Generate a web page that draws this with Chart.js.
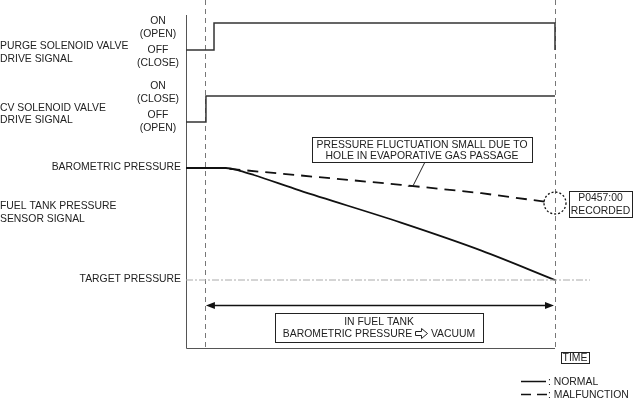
<!DOCTYPE html>
<html lang="en">
<head>
<meta charset="UTF-8" />
<title>Fuel tank pressure monitoring</title>
<script src="https://cdn.jsdelivr.net/npm/chart.js"></script>
<style>
  body { margin: 0; background: #fff; }
</style>
</head>
<body>
<canvas id="timing" width="636" height="402"></canvas>
<script>
// time axis (test starts at 0, ends at 10)
const timeStart = -0.54;
const timeEnd = 11;
const testStart = 0;
const testEnd = 10;

// purge solenoid valve drive signal (0 = OFF, 1 = ON)
const purgeTime = [-0.54, 0.26, 0.26, 10, 10];
const purgeLevel = [0, 0, 1, 1, 0];

// CV solenoid valve drive signal (0 = OFF, 1 = ON)
const cvTime = [-0.54, 0.03, 0.03, 10];
const cvLevel = [0, 0, 1, 1];

// fuel tank pressure, relative to barometric
const barometricPressure = 0;
const targetPressure = -4;
const normalTime = [-0.54, 0.6, 1.0, 1.4, 2.7, 5.6, 7.9, 10];
const normalPressure = [0, 0, -0.1, -0.25, -0.8, -1.95, -2.95, -4];
const malfunctionTime = [0.7, 5.6, 7.9, 9.7];
const malfunctionPressure = [-0.03, -0.6, -0.9, -1.2];
const recordedTime = 10;
const recordedPressure = -1.25;

const FONT = '10.4px "Liberation Sans", Arial, sans-serif';
const INK = "#222";
const TOP = 15, BOTTOM = 348;

// fit a hidden scale so value hi lands on pixel row pHi and lo on pLo
function fit(hi, pHi, lo, pLo) {
  const k = (hi - lo) / (pLo - pHi);
  return { min: hi - (BOTTOM - pHi) * k, max: hi + (pHi - TOP) * k };
}

const pts = (xs, ys) => xs.map((x, i) => ({ x: x, y: ys[i] }));

const leftLabels = [
  { text: "PURGE SOLENOID VALVE", x: 0, y: 46, align: "left" },
  { text: "DRIVE SIGNAL", x: 0, y: 59, align: "left" },
  { text: "ON", x: 158, y: 21, align: "center" },
  { text: "(OPEN)", x: 158, y: 34, align: "center" },
  { text: "OFF", x: 158, y: 50, align: "center" },
  { text: "(CLOSE)", x: 158, y: 63, align: "center" },
  { text: "CV SOLENOID VALVE", x: 0, y: 108, align: "left" },
  { text: "DRIVE SIGNAL", x: 0, y: 120, align: "left" },
  { text: "ON", x: 158, y: 86, align: "center" },
  { text: "(CLOSE)", x: 158, y: 99, align: "center" },
  { text: "OFF", x: 158, y: 115, align: "center" },
  { text: "(OPEN)", x: 158, y: 128, align: "center" },
  { text: "BAROMETRIC PRESSURE", x: 181, y: 167, align: "right" },
  { text: "FUEL TANK PRESSURE", x: 0, y: 206, align: "left" },
  { text: "SENSOR SIGNAL", x: 0, y: 219, align: "left" },
  { text: "TARGET PRESSURE", x: 181, y: 279, align: "right" }
];

function frame(ctx, x, y, w, h) {
  ctx.fillStyle = "#fff";
  ctx.fillRect(x, y, w, h);
  ctx.strokeStyle = INK;
  ctx.lineWidth = 1;
  ctx.strokeRect(x + 0.5, y + 0.5, w, h);
}

function box(ctx, x, y, w, h, lines, lineGap) {
  ctx.save();
  frame(ctx, x, y, w, h);
  ctx.fillStyle = INK;
  ctx.font = FONT;
  ctx.textAlign = "center";
  ctx.textBaseline = "middle";
  const y0 = y + h / 2 - (lines.length - 1) * lineGap / 2 + 1;
  lines.forEach((t, i) => ctx.fillText(t, x + w / 2, y0 + i * lineGap));
  ctx.restore();
}

// hollow right arrow used between the two pressure words
function hollowArrow(ctx, x, y) {
  ctx.beginPath();
  ctx.moveTo(x, y - 2);
  ctx.lineTo(x + 6, y - 2);
  ctx.lineTo(x + 6, y - 5);
  ctx.lineTo(x + 12, y);
  ctx.lineTo(x + 6, y + 5);
  ctx.lineTo(x + 6, y + 2);
  ctx.lineTo(x, y + 2);
  ctx.closePath();
  ctx.stroke();
}

const diagram = {
  id: "diagram",
  beforeDatasetsDraw(chart) {
    const ctx = chart.ctx;
    const xs = chart.scales.x;
    const area = chart.chartArea;
    ctx.save();
    // test window markers
    ctx.strokeStyle = "#777";
    ctx.lineWidth = 1;
    ctx.setLineDash([5, 4]);
    [testStart, testEnd].forEach(t => {
      const px = Math.round(xs.getPixelForValue(t)) + 0.5;
      ctx.beginPath();
      ctx.moveTo(px, 0);
      ctx.lineTo(px, area.bottom);
      ctx.stroke();
    });
    ctx.setLineDash([]);
    // axes
    ctx.strokeStyle = "#555";
    ctx.beginPath();
    ctx.moveTo(area.left + 0.5, area.top);
    ctx.lineTo(area.left + 0.5, area.bottom + 0.5);
    ctx.lineTo(xs.getPixelForValue(testEnd), area.bottom + 0.5);
    ctx.stroke();
    ctx.restore();
  },
  afterDatasetsDraw(chart) {
    const ctx = chart.ctx;
    const xs = chart.scales.x;
    const yp = chart.scales.yPress;
    ctx.save();
    ctx.font = FONT;
    ctx.fillStyle = INK;
    ctx.textBaseline = "middle";
    leftLabels.forEach(l => {
      ctx.textAlign = l.align;
      ctx.fillText(l.text, l.x, l.y);
    });

    // recorded marker
    const cx = xs.getPixelForValue(recordedTime);
    const cy = yp.getPixelForValue(recordedPressure);
    ctx.strokeStyle = "#111";
    ctx.lineWidth = 1.3;
    ctx.setLineDash([2, 2]);
    ctx.beginPath();
    ctx.arc(cx, cy, 11, 0, Math.PI * 2);
    ctx.stroke();
    ctx.setLineDash([]);
    box(ctx, 569, 191, 63, 26, ["P0457:00", "RECORDED"], 13);

    // callout on malfunction line
    const lx = xs.getPixelForValue(5.94);
    const ly = yp.getPixelForValue(-0.65);
    ctx.strokeStyle = INK;
    ctx.lineWidth = 1;
    ctx.beginPath();
    ctx.moveTo(425, 162);
    ctx.lineTo(lx, ly);
    ctx.lineTo(lx - 5, ly);
    ctx.stroke();
    box(ctx, 312, 137, 220, 25, ["PRESSURE FLUCTUATION SMALL DUE TO", "HOLE IN EVAPORATIVE GAS PASSAGE"], 11.5);

    // test duration arrow
    const ax0 = xs.getPixelForValue(testStart) + 1;
    const ax1 = xs.getPixelForValue(testEnd) - 1;
    const ay = 305.5;
    ctx.lineWidth = 1.5;
    ctx.strokeStyle = "#111";
    ctx.fillStyle = "#111";
    ctx.beginPath();
    ctx.moveTo(ax0 + 6, ay);
    ctx.lineTo(ax1 - 6, ay);
    ctx.stroke();
    ctx.beginPath();
    ctx.moveTo(ax0, ay); ctx.lineTo(ax0 + 9, ay - 3.5); ctx.lineTo(ax0 + 9, ay + 3.5); ctx.closePath();
    ctx.moveTo(ax1, ay); ctx.lineTo(ax1 - 9, ay - 3.5); ctx.lineTo(ax1 - 9, ay + 3.5); ctx.closePath();
    ctx.fill();

    // duration box with hollow arrow
    frame(ctx, 275, 313, 208, 29);
    ctx.fillStyle = INK;
    ctx.textAlign = "center";
    ctx.fillText("IN FUEL TANK", 379, 322);
    const left = "BAROMETRIC PRESSURE ", right = " VACUUM";
    const wl = ctx.measureText(left).width, wr = ctx.measureText(right).width;
    const sx = 379 - (wl + 13 + wr) / 2;
    ctx.textAlign = "left";
    ctx.fillText(left, sx, 334);
    ctx.fillText(right, sx + wl + 13, 334);
    ctx.strokeStyle = INK;
    ctx.lineWidth = 1;
    hollowArrow(ctx, sx + wl + 0.5, 333.5);

    // time label
    box(ctx, 561, 352, 28, 11, ["TIME"], 0);

    // legend
    ctx.strokeStyle = "#111";
    ctx.lineWidth = 1.5;
    ctx.beginPath();
    ctx.moveTo(521, 381.5); ctx.lineTo(546, 381.5);
    ctx.stroke();
    ctx.setLineDash([10, 6]);
    ctx.beginPath();
    ctx.moveTo(521, 394.5); ctx.lineTo(547, 394.5);
    ctx.stroke();
    ctx.setLineDash([]);
    ctx.fillStyle = INK;
    ctx.textAlign = "left";
    ctx.fillText(": NORMAL", 548, 382);
    ctx.fillText(": MALFUNCTION", 548, 395);
    ctx.restore();
  }
};

new Chart(document.getElementById("timing").getContext("2d"), {
  type: "line",
  data: {
    datasets: [
      {
        label: "Target pressure",
        data: pts([timeStart, timeEnd], [targetPressure, targetPressure]),
        yAxisID: "yPress",
        borderColor: "#aaa",
        borderWidth: 1,
        borderDash: [7, 2, 2, 2],
        pointRadius: 0
      },
      {
        label: "Purge solenoid valve",
        data: pts(purgeTime, purgeLevel),
        yAxisID: "yPurge",
        borderColor: "#333",
        borderWidth: 1.5,
        pointRadius: 0
      },
      {
        label: "CV solenoid valve",
        data: pts(cvTime, cvLevel),
        yAxisID: "yCv",
        borderColor: "#333",
        borderWidth: 1.5,
        pointRadius: 0
      },
      {
        label: "Malfunction",
        data: pts(malfunctionTime, malfunctionPressure),
        yAxisID: "yPress",
        borderColor: "#111",
        borderWidth: 1.8,
        borderDash: [11, 7],
        pointRadius: 0
      },
      {
        label: "Normal",
        data: pts(normalTime, normalPressure),
        yAxisID: "yPress",
        borderColor: "#111",
        borderWidth: 1.8,
        cubicInterpolationMode: "monotone",
        pointRadius: 0
      }
    ]
  },
  options: {
    responsive: false,
    animation: false,
    layout: { padding: { left: 186, top: TOP, right: 46, bottom: 402 - BOTTOM } },
    scales: {
      x: { type: "linear", min: timeStart, max: timeEnd, display: false },
      yPurge: Object.assign({ type: "linear", display: false }, fit(1, 23, 0, 50)),
      yCv: Object.assign({ type: "linear", display: false }, fit(1, 96, 0, 122)),
      yPress: Object.assign({ type: "linear", display: false }, fit(barometricPressure, 168, targetPressure, 280))
    },
    plugins: {
      legend: { display: false },
      tooltip: { enabled: false }
    }
  },
  plugins: [diagram]
});
</script>
</body>
</html>
